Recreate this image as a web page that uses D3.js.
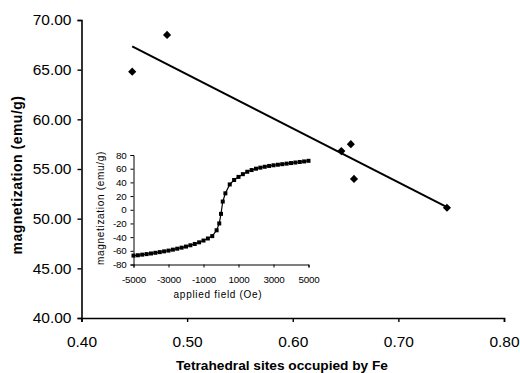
<!DOCTYPE html>
<html><head><meta charset="utf-8">
<script src="https://cdn.jsdelivr.net/npm/d3@7"></script>
<style>
html,body{margin:0;padding:0;background:#fff;}
svg text{font-family:"Liberation Sans",Arial,sans-serif;fill:#000;}
</style></head>
<body><svg id="c" width="520" height="373"></svg>
<script>
// Main chart data
const tetraSites = [0.448, 0.481, 0.646, 0.655, 0.658, 0.746];
const magnetization = [64.8, 68.5, 56.8, 57.5, 54.0, 51.1];
const xTicks = [0.40, 0.50, 0.60, 0.70, 0.80];
const yTicks = [40, 45, 50, 55, 60, 65, 70];
// Inset hysteresis data
const field = [-5000,-4750,-4500,-4250,-4000,-3750,-3500,-3250,-3000,-2750,-2500,-2250,-2000,-1750,-1500,-1250,-1000,-750,-500,-250,-100,0,100,250,500,750,1000,1250,1500,1750,2000,2250,2500,2750,3000,3250,3500,3750,4000,4250,4500,4750,5000];
const moment = [-67,-66.5,-65.6,-64.8,-63.9,-62.9,-61.9,-60.8,-59.7,-58.3,-56.9,-55.4,-53.8,-51.9,-50,-47.6,-45,-42,-38.5,-30,-20,-6,12,24,37,43.5,48,52,55.5,58,60,61.5,62.8,64,65,65.8,66.6,67.4,68.2,69,69.8,70.6,71.5];
const insetXTicks = [-5000,-3000,-1000,1000,3000,5000];
const insetYTicks = [-80,-60,-40,-20,0,20,40,60,80];

const svg = d3.select("#c");

// ---- main chart ----
const x = d3.scaleLinear().domain([0.4, 0.8]).range([81.5, 504]);
const y = d3.scaleLinear().domain([40, 70]).range([318, 20]);

const gx = svg.append("g").attr("transform","translate(0,318)")
  .call(d3.axisBottom(x).tickValues(xTicks).tickFormat(d3.format(".2f")).tickSize(4).tickPadding(14));
const gy = svg.append("g").attr("transform","translate(81.5,0)")
  .call(d3.axisLeft(y).tickValues(yTicks).tickFormat(d3.format(".2f")).tickSize(4).tickPadding(6));
[gx,gy].forEach(g=>{
  g.select(".domain").attr("stroke","#000").attr("stroke-width",1.6);
  g.selectAll(".tick line").attr("stroke","#000").attr("stroke-width",1.4);
  g.selectAll(".tick text").attr("font-size","15.5px").attr("fill","#1a1a1a");
});

// linear trendline (least squares)
const n = tetraSites.length;
const mx = d3.mean(tetraSites), my = d3.mean(magnetization);
let sxy=0,sxx=0;
for(let i=0;i<n;i++){sxy+=(tetraSites[i]-mx)*(magnetization[i]-my);sxx+=(tetraSites[i]-mx)**2;}
const slope = sxy/sxx, icpt = my - slope*mx;
const x0 = d3.min(tetraSites), x1 = d3.max(tetraSites);
svg.append("line")
  .attr("x1",x(x0)).attr("y1",y(icpt+slope*x0))
  .attr("x2",x(x1)).attr("y2",y(icpt+slope*x1))
  .attr("stroke","#000").attr("stroke-width",2);

svg.append("g").selectAll("path").data(tetraSites).join("path")
  .attr("d", d3.symbol(d3.symbolDiamond2, 42))
  .attr("transform",(d,i)=>`translate(${x(d)},${y(magnetization[i])})`)
  .attr("fill","#000");

svg.append("text").attr("x",282).attr("y",370).attr("text-anchor","middle")
  .attr("font-size","13.7px").attr("font-weight","bold").text("Tetrahedral sites occupied by Fe");
svg.append("text").attr("transform","translate(22,175) rotate(-90)").attr("text-anchor","middle")
  .attr("font-size","14px").attr("font-weight","bold").attr("letter-spacing","0.5px").text("magnetization (emu/g)");

// ---- inset ----
const ix = d3.scaleLinear().domain([-5000,5000]).range([133.5,308.5]);
const iy = d3.scaleLinear().domain([-80,80]).range([264.5,155]);
const igx = svg.append("g").attr("transform","translate(0,264.5)")
  .call(d3.axisBottom(ix).tickValues(insetXTicks).tickFormat(d3.format("d")).tickSize(3).tickPadding(9));
const igy = svg.append("g").attr("transform","translate(133.5,0)")
  .call(d3.axisLeft(iy).tickValues(insetYTicks).tickFormat(d3.format("d")).tickSize(3).tickPadding(4));
[igx,igy].forEach(g=>{
  g.select(".domain").attr("stroke","#000").attr("stroke-width",1);
  g.selectAll(".tick line").attr("stroke","#000").attr("stroke-width",1);
  g.selectAll(".tick text").attr("font-size","9.8px").attr("fill","#111").attr("letter-spacing","-0.2px");
});
igx.selectAll(".tick text").text(d=> d<0 ? "-"+Math.abs(d) : d);
igy.selectAll(".tick text").text(d=> d<0 ? "-"+Math.abs(d) : d);

svg.append("path").datum(field)
  .attr("d", d3.line().x(d=>ix(d)).y((d,i)=>iy(moment[i])))
  .attr("fill","none").attr("stroke","#000").attr("stroke-width",1.2);
svg.append("g").selectAll("rect").data(field).join("rect")
  .attr("x",d=>ix(d)-2).attr("y",(d,i)=>iy(moment[i])-2)
  .attr("width",4).attr("height",4).attr("fill","#000");

svg.append("text").attr("x",218).attr("y",298).attr("text-anchor","middle")
  .attr("font-size","10px").attr("letter-spacing","0.7px").text("applied field (Oe)");
svg.append("text").attr("transform","translate(104,208) rotate(-90)").attr("text-anchor","middle")
  .attr("font-size","10px").attr("letter-spacing","0.7px").text("magnetization (emu/g)");
</script></body></html>
